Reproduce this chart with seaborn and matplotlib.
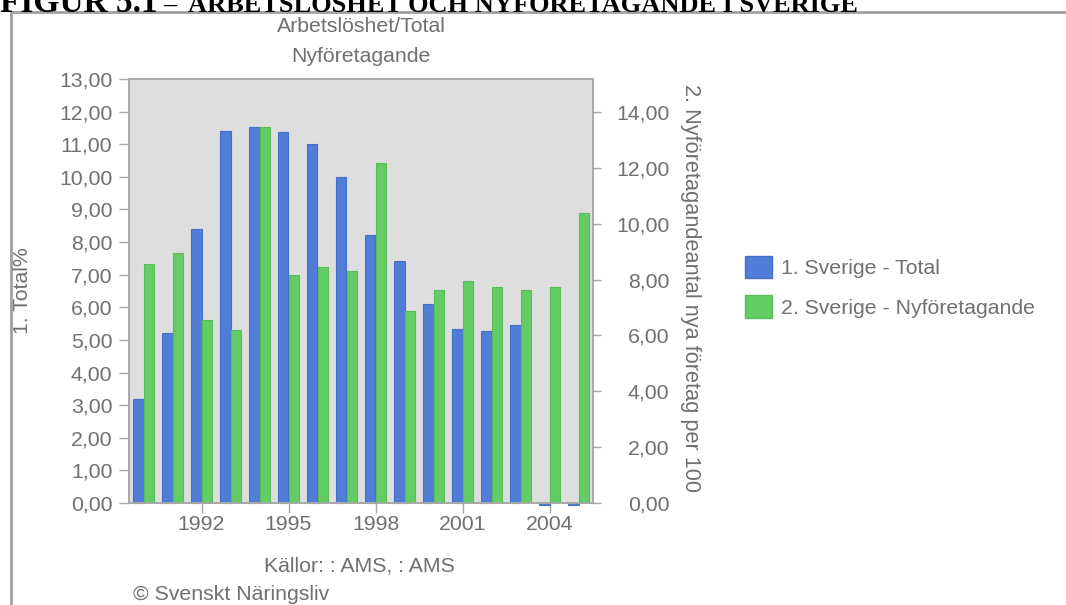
import numpy as np
import pandas as pd
import matplotlib
matplotlib.use("Agg")
import matplotlib.pyplot as plt
from matplotlib.patches import Patch
from matplotlib.lines import Line2D
from matplotlib.ticker import FuncFormatter
import seaborn as sns

# ---- data ----
years = [1990, 1991, 1992, 1993, 1994, 1995, 1996, 1997, 1998, 1999,
         2000, 2001, 2002, 2003, 2004, 2005]
total_pct = [3.20, 5.22, 8.41, 11.42, 11.54, 11.36, 11.00, 10.01, 8.23, 7.43,
             6.09, 5.32, 5.27, 5.47, -0.05, -0.05]
nyforetagande = [8.54, 8.96, 6.54, 6.21, 13.47, 8.17, 8.46, 8.32, 12.19, 6.87,
                 7.61, 7.96, 7.74, 7.61, 7.74, 10.40]
series_names = ["1. Sverige - Total", "2. Sverige - Nyföretagande"]
xtick_years = [1992, 1995, 1998, 2001, 2004]

BLUE = "#507dd8"
GREEN = "#64cc64"
BLUE_EDGE = "#4570c8"
GREEN_EDGE = "#58bc58"
GREY_TXT = "#707070"
SPINE = "#a8a8a8"
FS = 15.3

sns.set_theme(style="white")
plt.rcParams["font.family"] = ["Liberation Sans", "DejaVu Sans"]

W, H = 1066, 605
fig = plt.figure(figsize=(W / 100, H / 100), dpi=100)
fig.patch.set_facecolor("white")

def fx(px):
    return px / W

def fy(py):
    return 1 - py / H

ax = fig.add_axes([fx(129), fy(503), fx(593) - fx(129), fy(79) - fy(503)])
ax.set_facecolor("#dedede")
ax2 = ax.twinx()

ycats = [str(y) for y in years]
df_left = pd.DataFrame({
    "year": ycats * 2,
    "value": total_pct + [np.nan] * len(years),
    "series": [series_names[0]] * len(years) + [series_names[1]] * len(years),
})
df_right = pd.DataFrame({
    "year": ycats * 2,
    "value": [np.nan] * len(years) + nyforetagande,
    "series": [series_names[0]] * len(years) + [series_names[1]] * len(years),
})
pal = {series_names[0]: BLUE, series_names[1]: GREEN}

sns.barplot(data=df_left, x="year", y="value", hue="series", hue_order=series_names,
            order=ycats, palette=pal, dodge=True, width=0.74, ax=ax, legend=False,
            saturation=1, edgecolor=BLUE_EDGE, linewidth=0.8, errorbar=None)
sns.barplot(data=df_right, x="year", y="value", hue="series", hue_order=series_names,
            order=ycats, palette=pal, dodge=True, width=0.74, ax=ax2, legend=False,
            saturation=1, edgecolor=GREEN_EDGE, linewidth=0.8, errorbar=None)
for p in ax.patches:
    p.set_clip_on(False)

ax.set_xlim(-0.5, len(years) - 0.5)
ax.set_ylim(0, 13)
ax2.set_ylim(0, 15.18)
ax.set_yticks(np.arange(0, 14, 1))
ax2.set_yticks(np.arange(0, 16, 2))
fmt = FuncFormatter(lambda v, p: f"{v:.2f}".replace(".", ","))
ax.yaxis.set_major_formatter(fmt)
ax2.yaxis.set_major_formatter(fmt)
ax.set_xticks([ycats.index(str(y)) for y in xtick_years])
ax.set_xticklabels([str(y) for y in xtick_years])
ax.set_xlabel("")
ax.set_ylabel("")
ax2.set_ylabel("")

for a in (ax, ax2):
    for s in a.spines.values():
        s.set_color(SPINE)
        s.set_linewidth(1.2)
ax2.patch.set_visible(False)

ax.tick_params(axis="y", which="major", direction="out", length=7, width=1,
               color=SPINE, labelcolor=GREY_TXT, labelsize=FS, pad=5, left=True)
ax.tick_params(axis="x", which="major", direction="out", length=7, width=1,
               color=SPINE, labelcolor=GREY_TXT, labelsize=FS, pad=2, bottom=True)
ax2.tick_params(axis="y", which="major", direction="out", length=6, width=1,
                color=SPINE, labelcolor=GREY_TXT, labelsize=FS, pad=49, right=True)
for t in ax2.get_yticklabels():
    t.set_horizontalalignment("right")

# axis titles
fig.text(fx(22), fy(291), "1. Total%", rotation=90, ha="center", va="center",
         color=GREY_TXT, fontsize=FS)
fig.text(fx(691), fy(288), "2. Nyföretagandeantal nya företag per 100", rotation=-90,
         ha="center", va="center", color=GREY_TXT, fontsize=FS + 0.4)

# titles and notes
fig.text(fx(361), fy(27), "Arbetslöshet/Total", ha="center", va="center",
         color=GREY_TXT, fontsize=FS)
fig.text(fx(361), fy(57), "Nyföretagande", ha="center", va="center",
         color=GREY_TXT, fontsize=FS)
fig.text(fx(359), fy(566), "Källor: : AMS, : AMS", ha="center", va="center",
         color=GREY_TXT, fontsize=FS)
fig.text(fx(133), fy(594), "© Svenskt Näringsliv", ha="left", va="center",
         color=GREY_TXT, fontsize=FS)

# clipped heading at the very top
serif = ["Liberation Serif", "DejaVu Serif"]
fig.text(fx(0), fy(12), "FIGUR 5.1", ha="left", va="baseline",
         family=serif, fontweight="bold", fontsize=24, color="black")
fig.text(fx(163), fy(12), "–", ha="left", va="baseline",
         family=serif, fontweight="bold", fontsize=19, color="black")
fig.text(fx(188), fy(12), "ARBETSLÖSHET OCH NYFÖRETAGANDE I SVERIGE", ha="left",
         va="baseline", family=serif, fontweight="bold", fontsize=19, color="black")

# outer frame
fig.add_artist(Line2D([fx(11), fx(11), 1.0], [0.0, fy(12), fy(12)],
                      color="#a0a0a0", linewidth=2, transform=fig.transFigure))

# legend
handles = [Patch(facecolor=BLUE, edgecolor=BLUE_EDGE, label=series_names[0]),
           Patch(facecolor=GREEN, edgecolor=GREEN_EDGE, label=series_names[1])]
fig.legend(handles=handles, loc="upper left", bbox_to_anchor=(fx(745), fy(256)),
           frameon=False, fontsize=FS, labelcolor=GREY_TXT, handlelength=1.25,
           handleheight=1.25, handletextpad=0.45, labelspacing=0.8, borderpad=0,
           borderaxespad=0)

fig.savefig("out.png", dpi=100, facecolor="white")
